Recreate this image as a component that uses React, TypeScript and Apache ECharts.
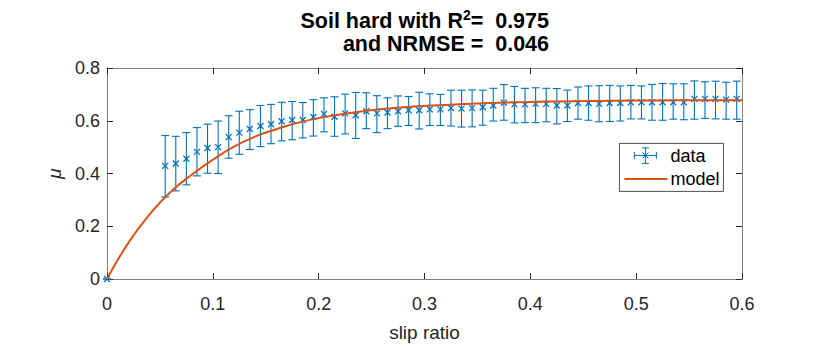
import React, { useEffect, useRef } from "react";
import * as echarts from "echarts";

const slip = [
  0, 0.055, 0.065, 0.075, 0.085, 0.095, 0.105, 0.115, 0.125, 0.135, 0.145,
  0.155, 0.165, 0.175, 0.185, 0.195, 0.205, 0.215, 0.225, 0.235, 0.245,
  0.255, 0.265, 0.275, 0.285, 0.295, 0.305, 0.315, 0.325, 0.335, 0.345,
  0.355, 0.365, 0.375, 0.385, 0.395, 0.405, 0.415, 0.425, 0.435, 0.445,
  0.455, 0.465, 0.475, 0.485, 0.495, 0.505, 0.515, 0.525, 0.535, 0.545,
  0.555, 0.565, 0.575, 0.585, 0.595,
];
const muMean = [
  0, 0.429, 0.438, 0.456, 0.482, 0.497, 0.5, 0.538, 0.555, 0.569, 0.58,
  0.587, 0.598, 0.603, 0.603, 0.614, 0.626, 0.615, 0.628, 0.621, 0.636,
  0.628, 0.631, 0.636, 0.64, 0.64, 0.643, 0.643, 0.648, 0.646, 0.648,
  0.651, 0.658, 0.668, 0.662, 0.662, 0.664, 0.664, 0.658, 0.658, 0.667,
  0.667, 0.664, 0.667, 0.667, 0.67, 0.67, 0.67, 0.67, 0.67, 0.67,
  0.683, 0.683, 0.683, 0.68, 0.683,
];
const muLow = [
  0, 0.311, 0.334, 0.357, 0.391, 0.401, 0.4, 0.458, 0.473, 0.491, 0.502,
  0.513, 0.524, 0.528, 0.535, 0.542, 0.558, 0.541, 0.55, 0.533, 0.57,
  0.555, 0.57, 0.579, 0.582, 0.569, 0.582, 0.582, 0.58, 0.576, 0.577,
  0.583, 0.599, 0.602, 0.592, 0.593, 0.593, 0.596, 0.588, 0.597, 0.606,
  0.602, 0.596, 0.597, 0.599, 0.607, 0.607, 0.602, 0.602, 0.606, 0.604,
  0.606, 0.609, 0.607, 0.606, 0.606,
];
const muHigh = [
  0, 0.544, 0.541, 0.555, 0.574, 0.587, 0.599, 0.619, 0.636, 0.642, 0.658,
  0.662, 0.67, 0.673, 0.669, 0.68, 0.687, 0.691, 0.701, 0.707, 0.706,
  0.695, 0.687, 0.694, 0.692, 0.708, 0.702, 0.7, 0.716, 0.716, 0.717,
  0.716, 0.723, 0.737, 0.73, 0.723, 0.725, 0.723, 0.722, 0.716, 0.728,
  0.732, 0.733, 0.734, 0.732, 0.734, 0.732, 0.738, 0.741, 0.74, 0.74,
  0.751, 0.748, 0.75, 0.746, 0.75,
];

const modelX = [
  0, 0.02, 0.04, 0.06, 0.08, 0.1, 0.12, 0.14, 0.16, 0.18,
  0.2, 0.24, 0.28, 0.32, 0.36, 0.4, 0.44, 0.48, 0.52, 0.56, 0.6,
];
const modelY = [
  0, 0.136, 0.244, 0.33, 0.395, 0.452, 0.502, 0.54, 0.568, 0.592,
  0.61, 0.635, 0.651, 0.66, 0.667, 0.671, 0.674, 0.676, 0.677, 0.678, 0.678,
];

const xTicks = { min: 0, max: 0.6, interval: 0.1 };
const yTicks = { min: 0, max: 0.8, interval: 0.2 };

const BLUE = "#0072BD";
const ORANGE = "#D95319";
const TEXT = "#262626";
const AXIS = "#808080";
const FONT = "'Liberation Sans', Arial, Helvetica, sans-serif";

export default function App() {
  const ref = useRef<HTMLDivElement>(null);
  useEffect(() => {
    if (!ref.current) return;
    const chart = echarts.init(ref.current, null, { renderer: "svg" });

    const errData = slip.map((x, i) => [x, muMean[i], muLow[i], muHigh[i]]);
    const modelData = modelX.map((x, i) => [x, modelY[i]]);

    const baseAxisLine = { show: true, onZero: false, lineStyle: { color: AXIS, width: 1 } };
    const tick = { show: true, inside: true, length: 6, lineStyle: { color: TEXT, width: 1 } };

    const titleRich = {
      a: { fontSize: 21.5, fontWeight: "bold" as const, fontFamily: FONT, color: "#000", lineHeight: 26 },
      s: { fontSize: 14, fontWeight: "bold" as const, fontFamily: FONT, color: "#000", lineHeight: 26, verticalAlign: "top" as const },
    };

    chart.setOption({
      animation: false,
      backgroundColor: "#fff",
      grid: { left: 107, top: 68, right: 80, bottom: 61, containLabel: false },
      xAxis: [
        {
          type: "value",
          ...xTicks,
          position: "bottom",
          axisLine: baseAxisLine,
          axisTick: tick,
          splitLine: { show: false },
          axisLabel: { color: TEXT, fontSize: 18, fontFamily: FONT, margin: 16 },
          name: "slip ratio",
          nameLocation: "middle",
          nameGap: 44,
          nameTextStyle: { color: TEXT, fontSize: 19, fontFamily: FONT },
        },
        {
          type: "value",
          ...xTicks,
          position: "top",
          axisLine: baseAxisLine,
          axisTick: tick,
          splitLine: { show: false },
          axisLabel: { show: false },
        },
      ],
      yAxis: [
        {
          type: "value",
          ...yTicks,
          position: "left",
          axisLine: baseAxisLine,
          axisTick: tick,
          splitLine: { show: false },
          axisLabel: { color: TEXT, fontSize: 18, fontFamily: FONT, margin: 7 },
          name: "μ",
          nameLocation: "middle",
          nameGap: 42,
          nameRotate: 90,
          nameTextStyle: { color: TEXT, fontSize: 19, fontFamily: FONT, fontStyle: "italic" },
        },
        {
          type: "value",
          ...yTicks,
          position: "right",
          axisLine: baseAxisLine,
          axisTick: tick,
          splitLine: { show: false },
          axisLabel: { show: false },
        },
      ],
      series: [
        {
          type: "custom",
          name: "data",
          xAxisIndex: 0,
          yAxisIndex: 0,
          data: errData,
          encode: { x: 0, y: [1, 2, 3] },
          clip: false,
          z: 2,
          renderItem: (params: any, api: any) => {
            const x = api.value(0);
            const y = api.value(1);
            const lo = api.value(2);
            const hi = api.value(3);
            const pT = api.coord([x, hi]);
            const pB = api.coord([x, lo]);
            const p = api.coord([x, y]);
            const c = 4;
            const m = 3;
            const st = { stroke: BLUE, lineWidth: 1.1, fill: "none" };
            return {
              type: "group",
              children: [
                { type: "line", shape: { x1: pT[0], y1: pT[1], x2: pB[0], y2: pB[1] }, style: st },
                { type: "line", shape: { x1: pT[0] - c, y1: pT[1], x2: pT[0] + c, y2: pT[1] }, style: st },
                { type: "line", shape: { x1: pB[0] - c, y1: pB[1], x2: pB[0] + c, y2: pB[1] }, style: st },
                { type: "line", shape: { x1: p[0] - m, y1: p[1] - m, x2: p[0] + m, y2: p[1] + m }, style: { ...st, lineWidth: 1.3 } },
                { type: "line", shape: { x1: p[0] - m, y1: p[1] + m, x2: p[0] + m, y2: p[1] - m }, style: { ...st, lineWidth: 1.3 } },
              ],
            };
          },
        },
        {
          type: "line",
          name: "model",
          xAxisIndex: 0,
          yAxisIndex: 0,
          data: modelData,
          smooth: 0.5,
          showSymbol: false,
          symbol: "none",
          lineStyle: { color: ORANGE, width: 2 },
          z: 3,
        },
      ],
      graphic: [
        {
          type: "text",
          right: 822 - 549,
          top: 8,
          style: {
            text: "{a|Soil hard with R}{s|2}{a|=  0.975}",
            rich: titleRich,
            align: "right",
          },
        },
        {
          type: "text",
          right: 822 - 549,
          top: 33,
          style: {
            text: "{a|and NRMSE =  0.046}",
            rich: titleRich,
            align: "right",
          },
        },
        {
          type: "group",
          left: 619,
          top: 143,
          children: [
            {
              type: "rect",
              shape: { x: 0, y: 0, width: 104, height: 48 },
              style: { fill: "#fff", stroke: TEXT, lineWidth: 0.8 },
            },
            { type: "line", shape: { x1: 15, y1: 12, x2: 37, y2: 12 }, style: { stroke: BLUE, lineWidth: 1 } },
            { type: "line", shape: { x1: 15, y1: 8.5, x2: 15, y2: 15.5 }, style: { stroke: BLUE, lineWidth: 1 } },
            { type: "line", shape: { x1: 37, y1: 8.5, x2: 37, y2: 15.5 }, style: { stroke: BLUE, lineWidth: 1 } },
            { type: "line", shape: { x1: 26, y1: 4.5, x2: 26, y2: 20 }, style: { stroke: BLUE, lineWidth: 1 } },
            { type: "line", shape: { x1: 22.5, y1: 4.5, x2: 29.5, y2: 4.5 }, style: { stroke: BLUE, lineWidth: 1 } },
            { type: "line", shape: { x1: 22.5, y1: 20, x2: 29.5, y2: 20 }, style: { stroke: BLUE, lineWidth: 1 } },
            { type: "line", shape: { x1: 23, y1: 9, x2: 29, y2: 15 }, style: { stroke: BLUE, lineWidth: 1 } },
            { type: "line", shape: { x1: 23, y1: 15, x2: 29, y2: 9 }, style: { stroke: BLUE, lineWidth: 1 } },
            {
              type: "text",
              x: 51,
              y: 13,
              style: { text: "data", fontSize: 18, fontFamily: FONT, fill: "#000", verticalAlign: "middle", align: "left" },
            },
            { type: "line", shape: { x1: 5, y1: 35.5, x2: 48, y2: 35.5 }, style: { stroke: ORANGE, lineWidth: 2 } },
            {
              type: "text",
              x: 51,
              y: 36,
              style: { text: "model", fontSize: 18, fontFamily: FONT, fill: "#000", verticalAlign: "middle", align: "left" },
            },
          ],
        },
      ],
    });

    return () => chart.dispose();
  }, []);

  return <div ref={ref} style={{ width: 822, height: 347, position: "absolute", left: 0, top: 0 }} />;
}
